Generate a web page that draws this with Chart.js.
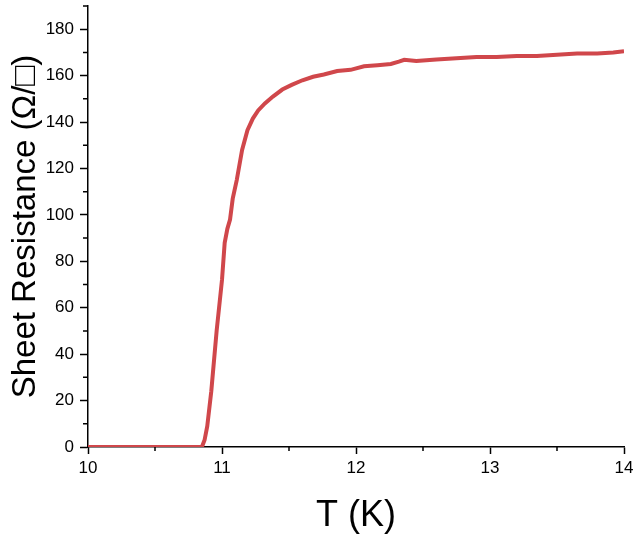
<!DOCTYPE html>
<html>
<head>
  <title>Sheet Resistance vs T</title>
  <script src="https://cdn.jsdelivr.net/npm/chart.js"></script>
  <style>
    html, body { margin: 0; padding: 0; background: #fff; }
  </style>
</head>
<body>
  <div style="width:634px;height:538px;">
    <canvas id="myChart" width="634" height="538"></canvas>
  </div>

  <script>
    // values
    const temperature = [10.00, 10.85, 10.87, 10.89, 10.92, 10.96, 11.00, 11.02, 11.04, 11.06,
      11.08, 11.11, 11.15, 11.19, 11.23, 11.27, 11.32, 11.38, 11.45, 11.52, 11.60,
      11.68, 11.76, 11.86, 11.96, 12.06, 12.16, 12.26, 12.32, 12.36, 12.45,
      12.60, 12.75, 12.90, 13.05, 13.20, 13.35, 13.50, 13.65, 13.80, 13.92, 14.00];
    const resistance = [0, 0, 3, 9, 24, 50, 72, 88, 94, 98,
      107, 115, 128, 136.5, 141.5, 145, 148, 151, 154, 156, 158,
      159.5, 160.5, 162, 162.5, 164, 164.5, 165, 166, 166.8, 166.3,
      167, 167.5, 168, 168, 168.5, 168.5, 169, 169.5, 169.5, 170, 170.5];

    const xTicks = [10, 11, 12, 13, 14];
    const xMinor = [10.5, 11.5, 12.5, 13.5];
    const yTicks = [0, 20, 40, 60, 80, 100, 120, 140, 160, 180];
    const yMinor = [10, 30, 50, 70, 90, 110, 130, 150, 170, 190];

    let points = [];
    for (let i = 0; i < temperature.length; i++) {
      points.push({ x: temperature[i], y: resistance[i] });
    }

    // small outside ticks between the labelled ones
    const minorTicks = {
      id: 'minorTicks',
      afterDraw(chart) {
        const ctx = chart.ctx;
        const xs = chart.scales.x, ys = chart.scales.y;
        ctx.save();
        ctx.strokeStyle = '#000';
        ctx.lineWidth = 1.5;
        ctx.beginPath();
        xMinor.forEach(v => {
          const px = xs.getPixelForValue(v);
          ctx.moveTo(px, xs.top);
          ctx.lineTo(px, xs.top + 4);
        });
        yMinor.forEach(v => {
          const py = ys.getPixelForValue(v);
          ctx.moveTo(ys.right - 5, py);
          ctx.lineTo(ys.right, py);
        });
        ctx.stroke();
        ctx.restore();
      }
    };

    let ctx = document.getElementById('myChart').getContext('2d');
    let myChart = new Chart(ctx, {
      type: 'line',
      data: {
        datasets: [{
          data: points,
          borderColor: '#d0474b',
          borderWidth: 4,
          pointRadius: 0,
          tension: 0,
          fill: false
        }]
      },
      options: {
        responsive: false,
        animation: false,
        layout: { padding: { left: 0, top: 6, right: 10, bottom: 0 } },
        plugins: { legend: { display: false }, tooltip: { enabled: false } },
        scales: {
          x: {
            type: 'linear',
            position: 'bottom',
            min: 10,
            max: 14,
            afterBuildTicks: s => { s.ticks = xTicks.map(v => ({ value: v })); },
            afterFit: s => { s.height = 91; s.paddingLeft = 0; s.paddingRight = 0; },
            ticks: {
              color: '#000',
              padding: 4,
              font: { family: 'Liberation Sans, Arial', size: 17 }
            },
            grid: { drawOnChartArea: false, tickLength: 7, tickWidth: 1.5, tickColor: '#000' },
            border: { color: '#000', width: 1.5 },
            title: {
              display: true,
              text: 'T (K)',
              color: '#000',
              padding: { top: 0, bottom: 0 },
              font: { family: 'Liberation Sans, Arial', size: 36 }
            }
          },
          y: {
            type: 'linear',
            min: 0,
            max: 190,
            afterBuildTicks: s => { s.ticks = yTicks.map(v => ({ value: v })); },
            afterFit: s => { s.width = 88; s.paddingTop = 0; s.paddingBottom = 0; },
            ticks: {
              color: '#000',
              padding: 6,
              font: { family: 'Liberation Sans, Arial', size: 17 }
            },
            grid: { drawOnChartArea: false, tickLength: 8, tickWidth: 1.5, tickColor: '#000' },
            border: { color: '#000', width: 1.5 },
            title: {
              display: true,
              text: 'Sheet Resistance (Ω/□)',
              color: '#000',
              padding: { top: 6, bottom: 0 },
              font: { family: 'Liberation Sans, Arial', size: 33 }
            }
          }
        }
      },
      plugins: [minorTicks]
    });
  </script>
</body>
</html>
